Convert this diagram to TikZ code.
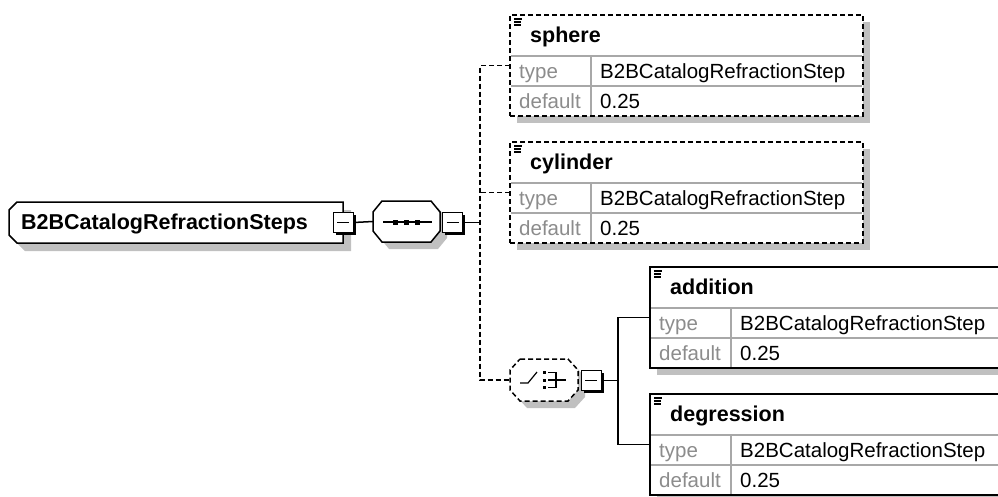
\documentclass[tikz,border=0pt]{standalone}
\usepackage{fontspec}
\setmainfont{Liberation Sans}
\usetikzlibrary{calc,shadows}
\definecolor{shadowc}{HTML}{C0C0C0}
\definecolor{rowc}{HTML}{A8A8A8}
\definecolor{lblc}{HTML}{8C8C8C}
\tikzset{
  conn/.style={line width=1.5pt, black},
  dconn/.style={line width=1.4pt, black, dash pattern=on 5pt off 3pt},
  elsolid/.style={draw, line width=2pt, fill=white, inner sep=0pt, outer sep=0pt,
    general shadow={fill=shadowc, shadow xshift=7pt, shadow yshift=-7pt}},
  eldashed/.style={draw, line width=1.5pt, fill=white, inner sep=0pt, outer sep=0pt,
    dash pattern=on 5pt off 3pt,
    general shadow={fill=shadowc, shadow xshift=7pt, shadow yshift=-7pt}},
  rowline/.style={rowc, line width=1.2pt},
  namelbl/.style={inner sep=0pt, font=\fontsize{21.5}{24}\selectfont\bfseries},
  keylbl/.style={inner sep=0pt, text=lblc, font=\fontsize{20.5}{24}\selectfont},
  vallbl/.style={inner sep=0pt, text=black, font=\fontsize{20.5}{24}\selectfont},
  minusbox/.style={rectangle, draw, line width=1pt, fill=white, minimum size=20pt,
    inner sep=0pt, general shadow={fill=black, shadow xshift=2.5pt, shadow yshift=-2.5pt},
    path picture={\draw[line width=1.2pt] ([xshift=4pt]path picture bounding box.west) -- ([xshift=-4pt]path picture bounding box.east);}},
  anchorbox/.style={rectangle, inner sep=0pt, outer sep=0pt},
  outline/.style={draw, line width=1.5pt, fill=white},
}
% octagon around node #1 with chamfer #2 (x) and #3 (y), style #4
\newcommand\octo[4]{%
  \fill[shadowc] ($(#1.north west)+(7+#2,7)$) -- ($(#1.north east)+(7-#2,7)$) -- ($(#1.north east)+(7,7+#3)$)
    -- ($(#1.south east)+(7,7-#3)$) -- ($(#1.south east)+(7-#2,7)$) -- ($(#1.south west)+(7+#2,7)$)
    -- ($(#1.south west)+(7,7-#3)$) -- ($(#1.north west)+(7,7+#3)$) -- cycle;
  \path[#4] ($(#1.north west)+(#2,0)$) -- ($(#1.north east)+(-#2,0)$) -- ($(#1.north east)+(0,#3)$)
    -- ($(#1.south east)+(0,-#3)$) -- ($(#1.south east)+(-#2,0)$) -- ($(#1.south west)+(#2,0)$)
    -- ($(#1.south west)+(0,-#3)$) -- ($(#1.north west)+(0,#3)$) -- cycle;
}
% #1 name, #2 x, #3 y, #4 width, #5 style, #6 label
\newcommand\elemx[6]{%
  \node[#5, anchor=north west, minimum width=#4pt, minimum height=101pt] (#1) at (#2,#3) {};
  \draw[rowline] ({#2+1},{#3+41}) -- ({#2+#4-1},{#3+41});
  \draw[rowline] ({#2+1},{#3+71}) -- ({#2+#4-1},{#3+71});
  \draw[rowline] ({#2+81},{#3+41}) -- ({#2+81},{#3+100});
  \draw[line width=1.1pt] ({#2+4},{#3+4}) -- ({#2+12},{#3+4});
  \draw[line width=1.1pt] ({#2+4},{#3+7}) -- ({#2+11},{#3+7});
  \draw[line width=1.1pt] ({#2+4},{#3+10}) -- ({#2+11},{#3+10});
  \node[namelbl, anchor=base west] (#1-name) at ({#2+20},{#3+27}) {#6};
  \node[keylbl, anchor=base west] (#1-tk) at ({#2+9},{#3+63}) {type};
  \node[vallbl, anchor=base west] (#1-tv) at ({#2+90},{#3+63}) {B2BCatalogRefractionStep};
  \node[keylbl, anchor=base west] (#1-dk) at ({#2+9},{#3+93}) {default};
  \node[vallbl, anchor=base west] (#1-dv) at ({#2+90},{#3+93}) {0.25};
}
\begin{document}
\begin{tikzpicture}[x=1pt,y=-1pt]
\useasboundingbox (0,0) rectangle (998,496);
\clip (0,0) rectangle (998,496);
\fill[white] (0,0) rectangle (998,496);

% root element
\node[anchorbox, minimum width=334pt, minimum height=41pt] (root) at (176,222.5) {};
\fill[shadowc] ($(root.north west)+(16,8)$) -- ($(root.north east)+(8,8)$) -- ($(root.south east)+(8,8)$)
   -- ($(root.south west)+(16,8)$) -- ($(root.south west)+(8,0)$) -- cycle;
\path[outline] ($(root.north west)+(8,0)$) -- (root.north east) -- (root.south east)
   -- ($(root.south west)+(8,0)$) -- ($(root.south west)+(0,-8)$) -- ($(root.north west)+(0,8)$) -- cycle;
\node[namelbl, anchor=base west] (rootlbl) at (21,229) {B2BCatalogRefractionSteps};
\node[minusbox] (rootminus) at (343,222.5) {};

% sequence compositor
\node[anchorbox, minimum width=67pt, minimum height=41pt] (seq) at (406.5,221.5) {};
\octo{seq}{9}{11}{outline}
\draw[line width=1.3pt] (383,222) -- (432,222);
\fill (392.5,219.5) rectangle ++(5,5);
\fill (403.5,219.5) rectangle ++(5,5);
\fill (414.5,219.5) rectangle ++(5,5);
\node[minusbox] (seqminus) at (452.5,222.5) {};

% choice compositor
\node[anchorbox, minimum width=68pt, minimum height=42pt] (choice) at (544,380) {};
\octo{choice}{10}{11}{{outline, dash pattern=on 5pt off 3pt}}
\draw[line width=1.2pt] (520,383) -- (528,383) -- (537,372);
\fill (543,371) rectangle ++(3,3);
\fill (543,378.5) rectangle ++(3,3);
\fill (543,386) rectangle ++(3,3);
\draw[line width=1.2pt] (548,372.5) -- (556,372.5) -- (556,387.5) -- (548,387.5);
\draw[line width=1.2pt] (548,380) -- (566,380);
\node[minusbox] (choiceminus) at (591,380.5) {};

% elements
\elemx{sphere}{510}{15}{353}{eldashed}{sphere}
\elemx{cylinder}{510}{142}{353}{eldashed}{cylinder}
\elemx{addition}{650}{267}{420}{elsolid}{addition}
\elemx{degression}{650}{394}{420}{elsolid}{degression}

% connectors
\coordinate (vtop) at (480,65.5);
\coordinate (vbot) at (480,380);
\coordinate (sj) at (481,222.5);
\coordinate (cj) at (618,380.5);
\draw[conn] (rootminus.east) -- (seq.west);
\draw[conn] (seqminus.east) -- (sj);
\draw[dconn] (sphere.west) -- (vtop) -- (vbot) -- (choice.west);
\draw[dconn] (cylinder.west) -- (cylinder.west -| vtop);
\draw[conn] (choiceminus.east) -- (cj);
\draw[conn] (addition.west) -| (cj) |- (degression.west);
\end{tikzpicture}
\end{document}
